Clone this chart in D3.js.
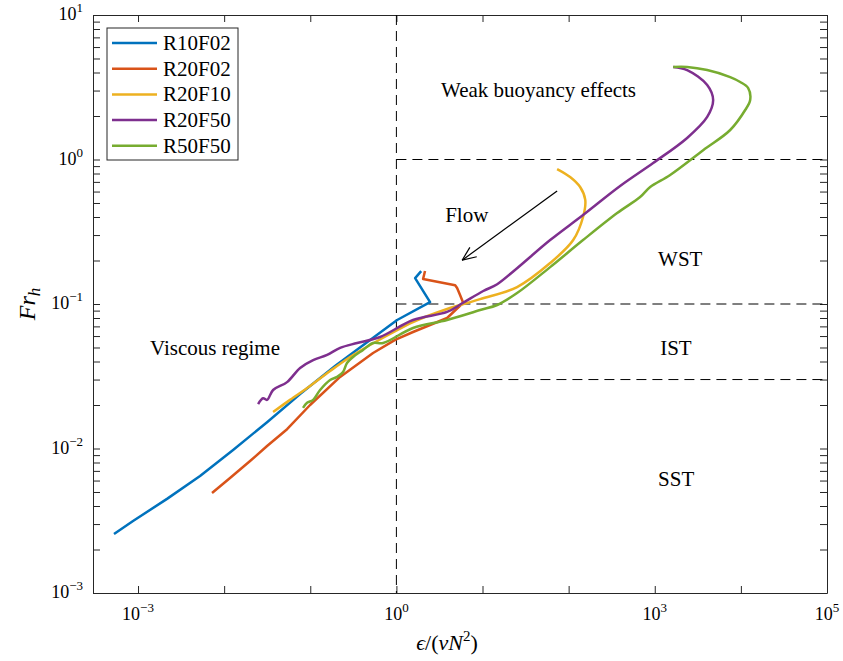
<!DOCTYPE html>
<html>
<head>
<meta charset="utf-8">
<script src="https://cdn.jsdelivr.net/npm/d3@7"></script>
<style>
body{margin:0;background:#fff;}
text{font-family:"Liberation Serif","Times New Roman",serif;fill:#000;}
</style>
</head>
<body>
<div id="chart"></div>
<script>
//runs and colours (MATLAB default order)
const seriesNames = ["R10F02", "R20F02", "R20F10", "R20F50", "R50F50"];
const seriesColors = ["#0072BD", "#D95319", "#EDB120", "#7E2F8E", "#77AC30"];

//epsilon/(nu N^2) and Fr_h
const r10f02Eps = [5.26e-4, 8.75e-4, 2.17e-3, 5.25e-3, 0.0127, 0.0315, 0.0762, 0.194, 0.495, 1.02, 2.46, 1.65, 1.94];
const r10f02Fr  = [2.56e-3, 3.15e-3, 4.48e-3, 6.45e-3, 9.77e-3, 0.0152, 0.0238, 0.0372, 0.0564, 0.0775, 0.103, 0.151, 0.169];

const r20f02Eps = [7.23e-3, 0.0117, 0.02, 0.0315, 0.0538, 0.0995, 0.222, 0.536, 0.966, 1.56, 3.88, 5.96, 5.5, 5.07, 4.81, 2.04, 2.15];
const r20f02Fr  = [4.92e-3, 6.25e-3, 8.19e-3, 0.0104, 0.0136, 0.02, 0.0313, 0.0458, 0.0564, 0.064, 0.08, 0.102, 0.115, 0.129, 0.135, 0.149, 0.169];

const r20f10Eps = [0.037, 0.0582, 0.0995, 0.17, 0.29, 0.495, 0.845, 1.56, 3.88, 9.38, 25.2, 61, 113, 147, 156, 136, 104, 73.5];
const r20f10Fr  = [0.0179, 0.0217, 0.0271, 0.0344, 0.043, 0.052, 0.062, 0.075, 0.0923, 0.108, 0.131, 0.192, 0.277, 0.4, 0.525, 0.645, 0.757, 0.859];

const r20f50Eps = [0.0248, 0.0283, 0.0315, 0.037, 0.0538, 0.0762, 0.108, 0.157, 0.222, 0.35, 0.647, 1.56, 3.88, 5.96, 10.2, 14.8, 25.2, 61, 147, 396, 958, 2377, 4064, 4764, 4064, 2377, 1637];
const r20f50Fr  = [0.0203, 0.0223, 0.0217, 0.0254, 0.0288, 0.0361, 0.0409, 0.0444, 0.0497, 0.0537, 0.0591, 0.0775, 0.0881, 0.102, 0.123, 0.137, 0.177, 0.277, 0.413, 0.656, 0.946, 1.41, 1.97, 2.58, 3.28, 4.16, 4.37];

const r50f50Eps = [0.0824, 0.0918, 0.108, 0.13, 0.17, 0.205, 0.24, 0.267, 0.314, 0.41, 0.536, 0.702, 1.56, 3.88, 9.38, 14.8, 25.2, 61, 147, 366, 676, 885, 1510, 3648, 7516, 11220, 12820, 12160, 9820, 7516, 4064, 2377, 1637];
const r50f50Fr  = [0.0191, 0.0207, 0.0217, 0.0254, 0.0298, 0.0313, 0.0338, 0.0391, 0.043, 0.0481, 0.0537, 0.0537, 0.0682, 0.0775, 0.0908, 0.0984, 0.119, 0.18, 0.277, 0.426, 0.55, 0.645, 0.782, 1.16, 1.6, 2.2, 2.58, 3.12, 3.44, 3.72, 4.16, 4.37, 4.37];

//ticks
const xTicks = [1e-3, 1e-2, 1e-1, 1, 1e1, 1e2, 1e3, 1e4, 1e5];
const xLabelled = [1e-3, 1, 1e3, 1e5];
const yTicks = [1e-3, 1e-2, 1e-1, 1, 1e1];

//regime boundaries
const vLine = 1;
const hLines = [1, 0.1, 0.03];

//annotations [text, eps, Fr]
const notes = [
    ["Weak buoyancy effects", 3.3, 2.72],
    ["Flow", 3.68, 0.37],
    ["WST", 1094, 0.183],
    ["IST", 1156, 0.0445],
    ["SST", 1094, 5.5e-3],
    ["Viscous regime", 1.38e-3, 0.0445]
];
const arrowFrom = [73.5, 0.605];
const arrowTo = [5.8, 0.201];

const margin = {top: 15, right: 16, bottom: 68, left: 93};
const width = 843 - margin.left - margin.right;
const height = 661 - margin.top - margin.bottom;

const svgRoot = d3.select("#chart").append("svg")
    .attr("width", 843).attr("height", 661);
const svg = svgRoot.append("g")
    .attr("transform", `translate(${margin.left},${margin.top})`);

const x = d3.scaleLog().domain([3e-4, 1e5]).range([0, width]);
const y = d3.scaleLog().domain([1e-3, 1e1]).range([height, 0]);

//minor y ticks 2..9 per decade
const yMinor = [];
yTicks.slice(0, -1).forEach(d => { for (let k = 2; k <= 9; k++) yMinor.push(d * k); });

const axisColor = "#262626";
function styleAxis(g) {
    g.select(".domain").attr("stroke", axisColor).attr("stroke-width", 1);
    g.selectAll(".tick line").attr("stroke", axisColor);
    g.selectAll(".tick text").remove();
}

//axes, ticks inward like MATLAB
svg.append("g").attr("transform", `translate(0,${height})`)
    .call(d3.axisBottom(x).tickValues(xTicks).tickSizeInner(-7).tickSizeOuter(0).tickFormat(""))
    .call(styleAxis);
svg.append("g")
    .call(d3.axisTop(x).tickValues(xTicks).tickSizeInner(-7).tickSizeOuter(0).tickFormat(""))
    .call(styleAxis);
svg.append("g")
    .call(d3.axisLeft(y).tickValues(yTicks.concat(yMinor)).tickSizeInner(-7).tickSizeOuter(0).tickFormat(""))
    .call(styleAxis);
svg.append("g").attr("transform", `translate(${width},0)`)
    .call(d3.axisRight(y).tickValues(yTicks.concat(yMinor)).tickSizeInner(-7).tickSizeOuter(0).tickFormat(""))
    .call(styleAxis);

//power of ten labels
function powLabel(sel, v) {
    const e = Math.round(Math.log10(v));
    sel.append("tspan").text("10");
    sel.append("tspan").attr("dy", -8).attr("font-size", 13)
        .text(e < 0 ? "\u2212" + (-e) : String(e));
}
xLabelled.forEach(v => {
    svg.append("text").attr("x", x(v)).attr("y", height + 27)
        .attr("text-anchor", "middle").attr("font-size", 18)
        .call(powLabel, v);
});
yTicks.forEach(v => {
    svg.append("text").attr("x", -10).attr("y", y(v) + 5)
        .attr("text-anchor", "end").attr("font-size", 18)
        .call(powLabel, v);
});

//axis titles
const xt = svgRoot.append("text").attr("x", 447).attr("y", 650)
    .attr("text-anchor", "middle").attr("font-size", 22);
xt.append("tspan").attr("font-style", "italic").text("\u03f5");
xt.append("tspan").text("/(");
xt.append("tspan").attr("font-style", "italic").text("\u03bdN");
xt.append("tspan").attr("dy", -9).attr("font-size", 15).text("2");
xt.append("tspan").attr("dy", 9).text(")");

const yt = svgRoot.append("text")
    .attr("transform", `translate(35,${margin.top + height / 2}) rotate(-90)`)
    .attr("text-anchor", "middle").attr("font-size", 24).attr("font-style", "italic");
yt.append("tspan").text("Fr");
yt.append("tspan").attr("dy", 5).attr("font-size", 17).text("h");

//dashed regime lines
const dash = "10,6";
svg.append("line")
    .attr("x1", x(vLine)).attr("x2", x(vLine))
    .attr("y1", y(1e1)).attr("y2", y(1e-3))
    .attr("stroke", "#000").attr("stroke-dasharray", dash);
svg.selectAll(".hline").data(hLines).enter().append("line")
    .attr("class", "hline")
    .attr("x1", x(vLine)).attr("x2", x(1e5))
    .attr("y1", d => y(d)).attr("y2", d => y(d))
    .attr("stroke", "#000").attr("stroke-dasharray", dash);

//curves
const runs = [
    [r10f02Eps, r10f02Fr], [r20f02Eps, r20f02Fr], [r20f10Eps, r20f10Fr],
    [r20f50Eps, r20f50Fr], [r50f50Eps, r50f50Fr]
].map((r, i) => ({name: seriesNames[i], color: seriesColors[i],
    pts: r[0].map((e, j) => [e, r[1][j]])}));

//sharp corners for the two short runs, smooth loops for the others
const sharpLine = d3.line().x(d => x(d[0])).y(d => y(d[1]));
const smoothLine = d3.line().x(d => x(d[0])).y(d => y(d[1]))
    .curve(d3.curveCatmullRom.alpha(0.5));

svg.selectAll(".run").data(runs).enter().append("path")
    .attr("class", "run")
    .attr("d", (d, i) => (i < 2 ? sharpLine : smoothLine)(d.pts))
    .attr("fill", "none")
    .attr("stroke", d => d.color)
    .attr("stroke-width", 2.5)
    .attr("stroke-linejoin", "round");

//text notes
notes.forEach(n => {
    svg.append("text").attr("x", x(n[1])).attr("y", y(n[2]))
        .attr("font-size", 21).text(n[0]);
});

//flow arrow
const ax0 = x(arrowFrom[0]), ay0 = y(arrowFrom[1]);
const ax1 = x(arrowTo[0]), ay1 = y(arrowTo[1]);
svg.append("line").attr("x1", ax0).attr("y1", ay0).attr("x2", ax1).attr("y2", ay1)
    .attr("stroke", "#000").attr("stroke-width", 1.2);
const ang = Math.atan2(ay0 - ay1, ax0 - ax1);
[-0.4, 0.4].forEach(da => {
    svg.append("line").attr("x1", ax1).attr("y1", ay1)
        .attr("x2", ax1 + 15 * Math.cos(ang + da))
        .attr("y2", ay1 + 15 * Math.sin(ang + da))
        .attr("stroke", "#000").attr("stroke-width", 1.2);
});

//legend
const legend = svgRoot.append("g").attr("transform", "translate(107,28)");
legend.append("rect").attr("width", 131).attr("height", 132)
    .attr("fill", "#fff").attr("stroke", axisColor).attr("stroke-width", 1);
runs.forEach((r, i) => {
    const ly = 15 + i * 25.7;
    legend.append("line").attr("x1", 5).attr("x2", 50).attr("y1", ly).attr("y2", ly)
        .attr("stroke", r.color).attr("stroke-width", 2.5);
    legend.append("text").attr("x", 56).attr("y", ly + 7)
        .attr("font-size", 21).text(r.name);
});
</script>
</body>
</html>
